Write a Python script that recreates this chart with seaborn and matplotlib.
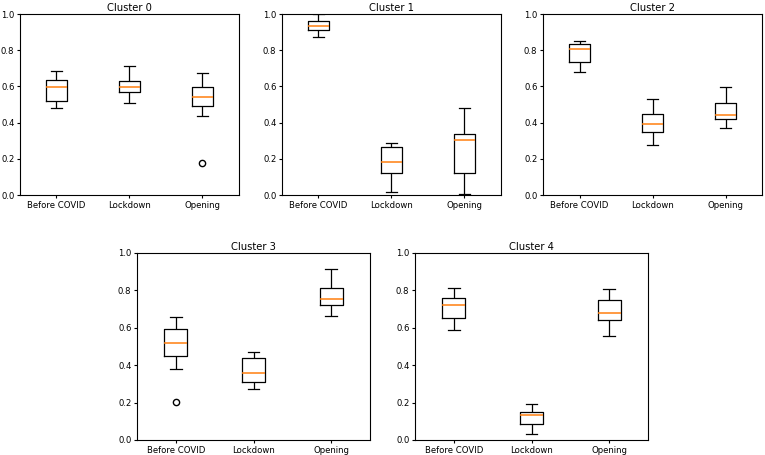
import matplotlib
matplotlib.use("Agg")
import matplotlib.pyplot as plt
import pandas as pd
import seaborn as sns

periods = ["Before COVID", "Lockdown", "Opening"]
titles = ["Cluster 0", "Cluster 1", "Cluster 2", "Cluster 3", "Cluster 4"]

# per cluster: one list of observations for each period
cluster0 = [
    [0.480, 0.517, 0.596, 0.636, 0.684],
    [0.507, 0.570, 0.596, 0.631, 0.715],
    [0.175, 0.4375, 0.493, 0.52, 0.544, 0.57, 0.594, 0.63, 0.675],
]
cluster1 = [
    [0.873, 0.914, 0.932, 0.960, 0.998],
    [0.015, 0.119, 0.182, 0.267, 0.287],
    [0.004, 0.123, 0.303, 0.335, 0.480],
]
cluster2 = [
    [0.682, 0.737, 0.807, 0.835, 0.851],
    [0.276, 0.346, 0.390, 0.447, 0.531],
    [0.368, 0.419, 0.443, 0.506, 0.594],
]
cluster3 = [
    [0.205, 0.382, 0.448, 0.48, 0.520, 0.56, 0.595, 0.63, 0.659],
    [0.271, 0.309, 0.359, 0.4375, 0.473],
    [0.664, 0.723, 0.755, 0.811, 0.9125],
]
cluster4 = [
    [0.589, 0.654, 0.723, 0.759, 0.811],
    [0.032, 0.086, 0.132, 0.150, 0.193],
    [0.557, 0.641, 0.680, 0.750, 0.805],
]
clusters = [cluster0, cluster1, cluster2, cluster3, cluster4]

# axes rectangles in figure fractions (left, bottom, width, height)
positions = [
    [0.0261, 0.5714, 0.2863, 0.3978],
    [0.3686, 0.5714, 0.2863, 0.3978],
    [0.7098, 0.5714, 0.2863, 0.3978],
    [0.1791, 0.0330, 0.3046, 0.4110],
    [0.5425, 0.0330, 0.3046, 0.4110],
]

fig = plt.figure(figsize=(7.65, 4.55), dpi=100)

for title, groups, pos in zip(titles, clusters, positions):
    ax = fig.add_axes(pos)
    df = pd.DataFrame({
        "period": [p for p, g in zip(periods, groups) for _ in g],
        "value": [v for g in groups for v in g],
    })
    sns.boxplot(data=df, x="period", y="value", order=periods, ax=ax,
                fill=False, color="black", width=0.3, linewidth=0.9,
                medianprops=dict(color="#ff7f0e", linewidth=1.1),
                flierprops=dict(marker="o", markerfacecolor="none",
                                markeredgecolor="black", markersize=4.5))
    ax.set_ylim(0, 1.0)
    ax.set_xlim(-0.5, 2.5)
    ax.set_xlabel("")
    ax.set_ylabel("")
    ax.set_title(title, fontsize=7.2, pad=2.5)
    ax.tick_params(labelsize=6.1, length=2.5, width=0.8, pad=1.5)
    for s in ax.spines.values():
        s.set_linewidth(0.8)

fig.savefig("out.png", dpi=100)
